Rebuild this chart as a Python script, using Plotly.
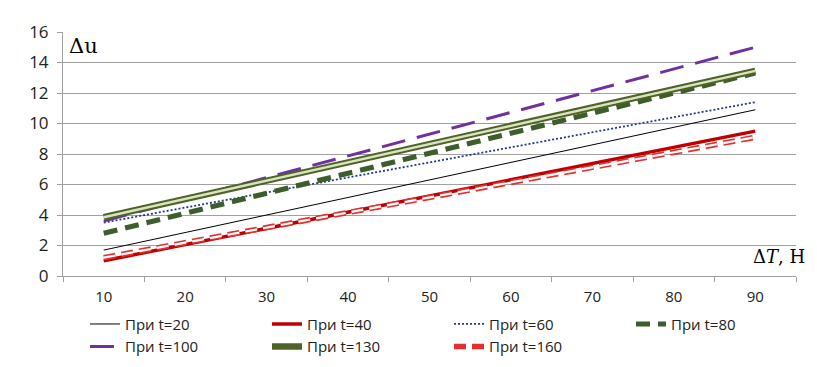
import plotly.graph_objects as go

x_vals = [10, 20, 30, 40, 50, 60, 70, 80, 90]
t20 = [1.7, 2.85, 4.0, 5.15, 6.3, 7.45, 8.6, 9.75, 10.9]
t40 = [1.0, 2.06, 3.13, 4.19, 5.25, 6.31, 7.38, 8.44, 9.5]
t60 = [3.5, 4.49, 5.48, 6.46, 7.45, 8.44, 9.43, 10.41, 11.4]
t80 = [2.8, 4.11, 5.43, 6.74, 8.05, 9.36, 10.68, 11.99, 13.3]
t100 = [3.6, 5.03, 6.45, 7.88, 9.3, 10.73, 12.15, 13.58, 15.0]
t130 = [3.85, 5.05, 6.25, 7.45, 8.65, 9.85, 11.05, 12.25, 13.45]
t160 = [1.2, 2.19, 3.18, 4.16, 5.15, 6.14, 7.13, 8.11, 9.1]
y_ticks = [0, 2, 4, 6, 8, 10, 12, 14, 16]
x_ticks = [10, 20, 30, 40, 50, 60, 70, 80, 90]
x_bounds = [5, 15, 25, 35, 45, 55, 65, 75, 85, 95]

fig = go.Figure()
fig.add_trace(go.Scatter(x=x_vals, y=t20, mode="lines", name="При t=20",
                         line=dict(color="#000000", width=1)))
fig.add_trace(go.Scatter(x=x_vals, y=t40, mode="lines", name="При t=40",
                         line=dict(color="#C00000", width=3.5)))
fig.add_trace(go.Scatter(x=x_vals, y=t60, mode="lines", name="При t=60",
                         line=dict(color="#1F3A8A", width=1.8, dash="2px,2px")))
fig.add_trace(go.Scatter(x=x_vals, y=t80, mode="lines", name="При t=80",
                         line=dict(color="#3B5E2B", width=5, dash="14px,8px")))
fig.add_trace(go.Scatter(x=x_vals, y=t100, mode="lines", name="При t=100",
                         line=dict(color="#7030A0", width=3, dash="24px,12px")))
fig.add_trace(go.Scatter(x=x_vals, y=t130, mode="lines", name="При t=130",
                         line=dict(color="#4F6228", width=6.5), legendgroup="g130"))
fig.add_trace(go.Scatter(x=x_vals, y=t130, mode="lines", name="При t=130",
                         line=dict(color="#D7E4BD", width=2.5), legendgroup="g130",
                         showlegend=False))
fig.add_trace(go.Scatter(x=x_vals, y=t160, mode="lines", name="При t=160",
                         line=dict(color="#E03030", width=5.5, dash="12px,6px"),
                         legendgroup="g160"))
fig.add_trace(go.Scatter(x=x_vals, y=t160, mode="lines", name="При t=160",
                         line=dict(color="#FFFFFF", width=2.2, dash="12px,6px"),
                         legendgroup="g160", showlegend=False))

fig.update_layout(
    width=817, height=367,
    margin=dict(l=55, r=25, t=15, b=90),
    plot_bgcolor="white", paper_bgcolor="white",
    font=dict(family="Open Sans, Liberation Sans, sans-serif", size=15, color="#222"),
    showlegend=True,
    legend=dict(orientation="h", x=0.03, xanchor="left", y=-0.13, yanchor="top",
                entrywidth=137, entrywidthmode="pixels",
                font=dict(size=15), tracegroupgap=0, itemwidth=30),
    xaxis=dict(range=[5, 95], tickvals=x_ticks, ticktext=[str(v) for v in x_ticks],
               ticks="", showgrid=False, zeroline=False, showline=True,
               linecolor="#A0A0A0", linewidth=1, ticklabelstandoff=7,
               minor=dict(tickvals=x_bounds, ticks="outside", ticklen=5,
                          tickcolor="#A0A0A0", showgrid=False),
               tickfont=dict(size=15)),
    yaxis=dict(range=[0, 16], tickvals=y_ticks, ticks="outside", ticklen=5,
               tickcolor="#A0A0A0", showgrid=True, gridcolor="#A0A0A0",
               gridwidth=1, zeroline=False, showline=True, linecolor="#A0A0A0",
               linewidth=1, ticklabelstandoff=5, tickfont=dict(size=17)),
)

fig.add_annotation(x=0.005, y=1.0, xref="paper", yref="paper", xanchor="left",
                   yanchor="top", text="Δu", showarrow=False,
                   font=dict(family="DejaVu Serif, Liberation Serif, serif", size=21, color="#000"))
fig.add_annotation(x=1.015, y=0.03, xref="paper", yref="paper", xanchor="right",
                   yanchor="bottom", text="Δ<i>T</i>, Н", showarrow=False,
                   font=dict(family="DejaVu Serif, Liberation Serif, serif", size=18, color="#000"))

fig.write_html("out.html")
